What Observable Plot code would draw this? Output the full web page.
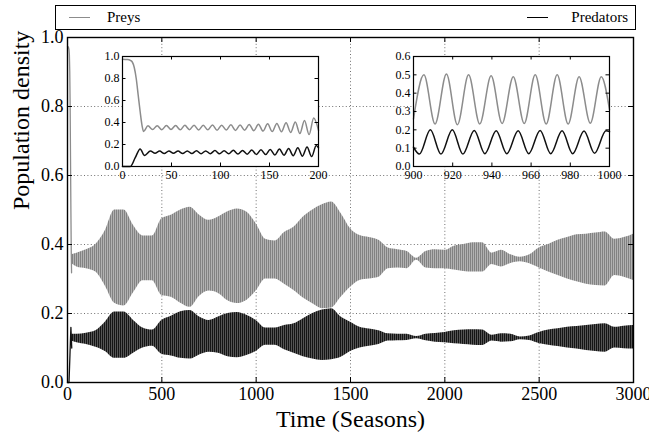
<!DOCTYPE html>
<html>
<head>
<meta charset="utf-8">
<script src="https://cdn.jsdelivr.net/npm/d3@7"></script>
<script src="https://cdn.jsdelivr.net/npm/@observablehq/plot@0.6"></script>
<style>
  html, body { margin: 0; padding: 0; background: #fff; }
  #wrap { position: relative; width: 649px; height: 437px; overflow: hidden; font-family: "Liberation Serif", serif; color: #000; }
  #wrap svg, #wrap svg text { font-family: "Liberation Serif", serif !important; }
  #legend { position: absolute; left: 55px; top: 5px; width: 581px; height: 25px; border: 1px solid #000; box-sizing: border-box; background: #fff; }
  #legend .ln { position: absolute; top: 11px; width: 21px; height: 0; }
  #legend .tx { position: absolute; top: 0; line-height: 23px; font-size: 15px; }
  svg { position: absolute; }
</style>
</head>
<body>
<div id="wrap">
  <div id="legend">
    <div class="ln" style="left:13px;border-top:1.5px solid #8c8c8c"></div>
    <span class="tx" style="left:51px">Preys</span>
    <div class="ln" style="left:471px;border-top:1.5px solid #000"></div>
    <span class="tx" style="right:7px">Predators</span>
  </div>
</div>
<script>
// ---------- main plot data (envelopes of the dense oscillations) ----------
const xTicks = [0, 500, 1000, 1500, 2000, 2500, 3000];
const yTicks = [0, 0.2, 0.4, 0.6, 0.8, 1.0];

const tGrid = [22, 50, 100, 150, 200, 250, 300, 350, 400, 450, 500, 550, 600, 650, 700, 750, 800, 850, 900, 950,
  1000, 1050, 1100, 1150, 1200, 1250, 1300, 1350, 1400, 1450, 1500, 1550, 1600, 1650, 1700, 1750, 1800, 1850, 1900, 1950,
  2000, 2050, 2100, 2150, 2200, 2250, 2300, 2350, 2400, 2450, 2500, 2550, 2600, 2650, 2700, 2750, 2800, 2850, 2900, 2950, 3000];

const preyHigh = [0.37, 0.375, 0.385, 0.40, 0.44, 0.50, 0.50, 0.455, 0.425, 0.425, 0.475, 0.485, 0.50, 0.508, 0.485, 0.47, 0.48, 0.495, 0.503, 0.494,
  0.46, 0.415, 0.41, 0.435, 0.45, 0.48, 0.50, 0.515, 0.523, 0.49, 0.446, 0.426, 0.42, 0.412, 0.39, 0.385, 0.38, 0.36, 0.38, 0.385,
  0.383, 0.395, 0.40, 0.405, 0.405, 0.375, 0.383, 0.37, 0.363, 0.37, 0.39, 0.40, 0.412, 0.42, 0.428, 0.43, 0.433, 0.436, 0.415, 0.42, 0.43];

const preyLow = [0.345, 0.335, 0.33, 0.32, 0.28, 0.23, 0.222, 0.26, 0.295, 0.295, 0.252, 0.247, 0.23, 0.218, 0.25, 0.265, 0.258, 0.237, 0.229, 0.238,
  0.265, 0.30, 0.30, 0.285, 0.267, 0.245, 0.228, 0.214, 0.216, 0.247, 0.276, 0.296, 0.30, 0.305, 0.33, 0.332, 0.33, 0.354, 0.332, 0.33,
  0.33, 0.326, 0.322, 0.32, 0.32, 0.342, 0.335, 0.345, 0.35, 0.344, 0.332, 0.32, 0.31, 0.30, 0.292, 0.285, 0.281, 0.28, 0.31, 0.305, 0.296];

const predHigh = [0.14, 0.14, 0.143, 0.15, 0.175, 0.204, 0.204, 0.18, 0.158, 0.152, 0.18, 0.192, 0.205, 0.209, 0.19, 0.18, 0.19, 0.20, 0.203, 0.195,
  0.18, 0.158, 0.158, 0.165, 0.17, 0.185, 0.20, 0.21, 0.214, 0.19, 0.175, 0.16, 0.155, 0.15, 0.141, 0.14, 0.14, 0.133, 0.14, 0.142,
  0.145, 0.15, 0.152, 0.153, 0.152, 0.137, 0.141, 0.14, 0.132, 0.135, 0.145, 0.152, 0.156, 0.16, 0.162, 0.165, 0.168, 0.17, 0.16, 0.163, 0.165];

const predLow = [0.12, 0.115, 0.11, 0.102, 0.09, 0.07, 0.07, 0.085, 0.10, 0.105, 0.082, 0.077, 0.07, 0.068, 0.08, 0.088, 0.085, 0.075, 0.072, 0.078,
  0.09, 0.108, 0.108, 0.095, 0.085, 0.075, 0.068, 0.064, 0.066, 0.073, 0.09, 0.10, 0.105, 0.11, 0.12, 0.121, 0.122, 0.127, 0.121, 0.117,
  0.115, 0.112, 0.11, 0.108, 0.107, 0.12, 0.117, 0.118, 0.124, 0.122, 0.113, 0.108, 0.104, 0.10, 0.097, 0.093, 0.09, 0.088, 0.10, 0.098, 0.097];

// ---------- inset 1 (0-200) ----------
const inset1PreyT = [0, 5, 8, 10, 12, 14, 16, 18, 20, 21.5, 26, 30.7, 35.4, 40.1, 44.8, 49.5, 54.2, 58.9, 63.6, 68.3,
  73, 77.7, 82.4, 87.1, 91.8, 96.5, 101.2, 105.9, 110.6, 115.3, 120, 124.6, 129.3, 134, 138.7, 143.4, 148.1, 152.8, 157.5, 162.2,
  166.9, 171.6, 176.3, 181, 185.7, 190.4, 195.1, 200];
const inset1PreyV = [0.975, 0.972, 0.965, 0.95, 0.90, 0.80, 0.65, 0.50, 0.37, 0.318, 0.37, 0.336, 0.371, 0.334, 0.373, 0.336, 0.372, 0.333, 0.374, 0.335,
  0.376, 0.332, 0.374, 0.334, 0.378, 0.330, 0.376, 0.332, 0.380, 0.328, 0.378, 0.330, 0.382, 0.325, 0.385, 0.322, 0.388, 0.318, 0.392, 0.315,
  0.398, 0.310, 0.405, 0.300, 0.418, 0.290, 0.440, 0.330];
const inset1PredT = [0, 8, 13, 18, 22.5, 28.5, 33.2, 37.9, 42.6, 47.3, 52, 56.7, 61.4, 66.1, 70.8,
  75.5, 80.2, 84.9, 89.6, 94.3, 99, 103.7, 108.4, 113.1, 117.8, 122.5, 127.2, 131.9, 136.6, 141.3, 146, 150.7, 155.4, 160.1, 164.8,
  169.5, 174.2, 178.9, 183.6, 188.3, 193, 197.7, 200];
const inset1PredV = [0, 0, 0.08, 0.16, 0.10, 0.14, 0.12, 0.14, 0.118, 0.142, 0.12, 0.14, 0.118, 0.142, 0.118,
  0.143, 0.117, 0.142, 0.116, 0.145, 0.115, 0.144, 0.115, 0.147, 0.113, 0.146, 0.112, 0.15, 0.11, 0.152, 0.108, 0.155, 0.105, 0.158, 0.102,
  0.163, 0.098, 0.17, 0.094, 0.178, 0.09, 0.19, 0.17];

// ---------- inset 2 (900-1000) ----------
const inset2PreyT = [900, 905.3, 911, 916.8, 922.4, 928.1, 933.8, 939.6, 945.2, 950.9, 956.5, 962.1, 967.7, 973.3, 978.9, 984.5, 990.2, 995.8, 1000];
const inset2PreyV = [0.26, 0.50, 0.232, 0.505, 0.228, 0.50, 0.232, 0.495, 0.235, 0.49, 0.235, 0.50, 0.232, 0.50, 0.232, 0.49, 0.236, 0.49, 0.31];
const inset2PredT = [900, 903, 908.6, 914, 919.8, 925.2, 931, 936.4, 942.2, 947.6, 953.4, 958.8, 964.6, 970, 975.8, 981.2, 987, 992.4, 998.2, 1000];
const inset2PredV = [0.105, 0.068, 0.20, 0.068, 0.20, 0.068, 0.197, 0.07, 0.195, 0.07, 0.195, 0.07, 0.197, 0.07, 0.195, 0.07, 0.193, 0.072, 0.195, 0.19];

const inset1XTicks = [0, 50, 100, 150, 200];
const inset1YTicks = [0, 0.2, 0.4, 0.6, 0.8, 1.0];
const inset2XTicks = [900, 920, 940, 960, 980, 1000];
const inset2YTicks = [0, 0.1, 0.2, 0.3, 0.4, 0.5, 0.6];

// ---------- build tables ----------
const band = tGrid.map((t, i) => ({t, pl: preyLow[i], ph: preyHigh[i], dl: predLow[i], dh: predHigh[i]}));
const pts = (T, V) => T.map((t, i) => ({t, v: V[i]}));
const prey1 = pts(inset1PreyT, inset1PreyV), pred1 = pts(inset1PredT, inset1PredV);
const prey2 = pts(inset2PreyT, inset2PreyV), pred2 = pts(inset2PredT, inset2PredV);
const startPrey = prey1.filter(d => d.t <= 22), startPred = pred1.filter(d => d.t <= 23);

const PREY = "#8c8c8c", PRED = "#111";
const FONT = '"Liberation Serif", serif';
const wrap = document.getElementById("wrap");

// ---------- main ----------
const W = 649, H = 407, mL = 67, mR = 16, mT = 7, mB = 55;
const fw = W - mL - mR, fh = H - mT - mB;
const grid = {stroke: "#444", strokeOpacity: 0.85, strokeWidth: 0.9, strokeDasharray: "1,2.4"};
const main = Plot.plot({
  width: W, height: H, marginLeft: mL, marginRight: mR, marginTop: mT, marginBottom: mB,
  x: {domain: [0, 3000], label: null}, y: {domain: [0, 1], label: null},
  style: {fontFamily: FONT, fontSize: "18px", background: "transparent", color: "#000", overflow: "visible"},
  marks: [
    Plot.gridX(xTicks, grid),
    Plot.gridY(yTicks, grid),
    Plot.areaY(band, {x: "t", y1: "pl", y2: "ph", fill: "url(#preyTex)", curve: "monotone-x"}),
    Plot.areaY(band, {x: "t", y1: "dl", y2: "dh", fill: "url(#predTex)", curve: "monotone-x"}),
    Plot.line(startPrey, {x: "t", y: "v", stroke: PREY, strokeWidth: 1.3}),
    Plot.line(startPred, {x: "t", y: "v", stroke: PRED, strokeWidth: 1.3}),
    Plot.ruleX(xTicks, {x: d => d, insetTop: fh - 5, stroke: "#000"}),
    Plot.ruleX(xTicks, {x: d => d, insetBottom: fh - 5, stroke: "#000"}),
    Plot.ruleY(yTicks, {y: d => d, insetRight: fw - 5, stroke: "#000"}),
    Plot.ruleY(yTicks, {y: d => d, insetLeft: fw - 5, stroke: "#000"}),
    Plot.frame({stroke: "#000", strokeWidth: 1.4}),
    Plot.axisX(xTicks, {tickSize: 0, tickPadding: 5, tickFormat: d => String(d), label: null}),
    Plot.axisY(yTicks, {tickSize: 0, tickPadding: 4, tickFormat: d => d.toFixed(1), label: null}),
    Plot.text(["Time (Seasons)"], {text: d => d, frameAnchor: "bottom", dy: 37, fontSize: 24, lineAnchor: "middle"}),
    Plot.text(["Population density"], {text: d => d, frameAnchor: "left", dx: -46, rotate: -90, fontSize: 24, lineAnchor: "middle"})
  ]
});
const NS = "http://www.w3.org/2000/svg";
function tex(id, dark, light) {
  const p = document.createElementNS(NS, "pattern");
  p.setAttribute("id", id); p.setAttribute("patternUnits", "userSpaceOnUse");
  p.setAttribute("width", "2"); p.setAttribute("height", "4");
  const r1 = document.createElementNS(NS, "rect");
  r1.setAttribute("width", "2"); r1.setAttribute("height", "4"); r1.setAttribute("fill", light);
  const r2 = document.createElementNS(NS, "rect");
  r2.setAttribute("width", "1"); r2.setAttribute("height", "4"); r2.setAttribute("fill", dark);
  p.appendChild(r1); p.appendChild(r2);
  return p;
}
const defs = document.createElementNS(NS, "defs");
defs.appendChild(tex("preyTex", "#828282", "#b2b2b2"));
defs.appendChild(tex("predTex", "#151515", "#555555"));
main.insertBefore(defs, main.firstChild);
main.style.left = "0px"; main.style.top = "30px";
wrap.appendChild(main);

// ---------- insets ----------
function inset(o) {
  const iw = 196, ih = 110, il = 30, ir = 4, it = 4, ib = 18;
  const p = Plot.plot({
    width: iw + il + ir, height: ih + it + ib, marginLeft: il, marginRight: ir, marginTop: it, marginBottom: ib,
    x: {domain: o.xd, label: null}, y: {domain: o.yd, label: null},
    style: {fontFamily: FONT, fontSize: "12px", background: "transparent", color: "#000", overflow: "visible"},
    marks: [
      Plot.frame({fill: "#fff", stroke: null}),
      Plot.line(o.prey, {x: "t", y: "v", stroke: PREY, strokeWidth: 1.5, curve: "monotone-x"}),
      Plot.line(o.pred, {x: "t", y: "v", stroke: PRED, strokeWidth: 1.5, curve: "monotone-x"}),
      Plot.ruleX(o.xt, {x: d => d, insetTop: ih - 3.5, stroke: "#000"}),
      Plot.ruleX(o.xt, {x: d => d, insetBottom: ih - 3.5, stroke: "#000"}),
      Plot.ruleY(o.yt, {y: d => d, insetRight: iw - 3.5, stroke: "#000"}),
      Plot.ruleY(o.yt, {y: d => d, insetLeft: iw - 3.5, stroke: "#000"}),
      Plot.frame({stroke: "#000", strokeWidth: 1.2}),
      Plot.axisX(o.xt, {tickSize: 0, tickPadding: 4, tickFormat: d => String(d), label: null}),
      Plot.axisY(o.yt, {tickSize: 0, tickPadding: 3, tickFormat: d => d.toFixed(1), label: null})
    ]
  });
  p.style.left = (o.left - il) + "px"; p.style.top = (o.top - it) + "px";
  wrap.appendChild(p);
}
inset({xd: [0, 200], yd: [0, 1], xt: inset1XTicks, yt: inset1YTicks, prey: prey1, pred: pred1, left: 122, top: 56});
inset({xd: [900, 1000], yd: [0, 0.6], xt: inset2XTicks, yt: inset2YTicks, prey: prey2, pred: pred2, left: 413, top: 56});
</script>
</body>
</html>
